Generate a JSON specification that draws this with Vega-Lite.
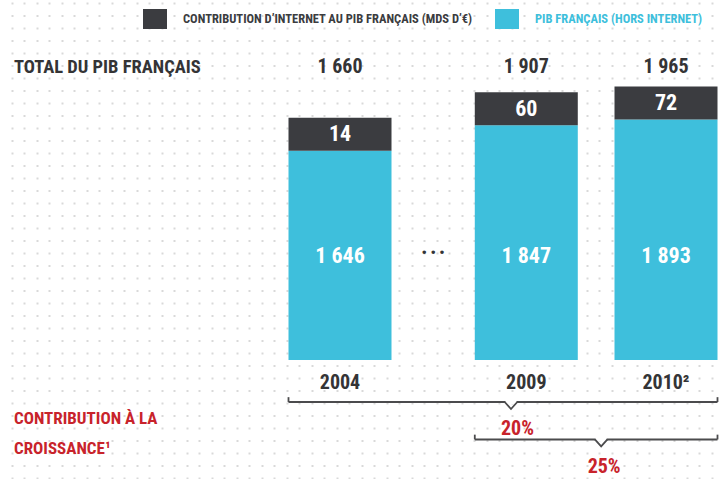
{
  "$schema": "https://vega.github.io/schema/vega-lite/v6.json",
  "width": 720,
  "height": 479,
  "autosize": "none",
  "padding": 0,
  "background": "white",
  "config": {
    "view": {"stroke": null},
    "font": "Liberation Sans Narrow, Roboto Condensed, DejaVu Sans Condensed, Liberation Sans, sans-serif",
    "locale": {"number": {"decimal": ",", "thousands": " ", "grouping": [3], "currency": ["", " €"]}},
    "text": {"fontWeight": "bold", "baseline": "middle", "align": "center"}
  },
  "datasets": {
    "pib": [
      {"annee": "2004", "etiquette": "2004", "total": 1660, "internet": 14, "hors_internet": 1646},
      {"annee": "2009", "etiquette": "2009", "total": 1907, "internet": 60, "hors_internet": 1847},
      {"annee": "2010", "etiquette": "2010²", "total": 1965, "internet": 72, "hors_internet": 1893}
    ],
    "croissance": [
      {"periode": "2004–2010", "debut": "2004", "fin": "2010", "taux": 0.20},
      {"periode": "2009–2010", "debut": "2009", "fin": "2010", "taux": 0.25}
    ]
  },
  "resolve": {"scale": {"x": "independent", "y": "independent"}},
  "layer": [
    {
      "data": {"values": [{"fond": 0}]},
      "mark": {"type": "point", "opacity": 0},
      "encoding": {
        "x": {"datum": 0, "type": "quantitative", "scale": {"domain": [-0.936, 56.664], "nice": false, "zero": false},
          "axis": {"orient": "top", "grid": true, "gridColor": "#d9d9d9", "gridWidth": 2, "gridDash": [2, 10.5], "tickCount": 58, "domain": false, "ticks": false, "labels": false, "title": null}},
        "y": {"datum": 0, "type": "quantitative", "axis": null}
      }
    },
    {
      "layer": [
        {
          "data": {"name": "pib"},
          "mark": {"type": "bar", "width": 103},
          "encoding": {
            "x": {"field": "annee", "type": "nominal", "axis": null,
              "scale": {"type": "point", "padding": 0, "range": [14, 666],
                "domain": ["libellé","_1","_2","_3","_4","_5","_6","_7","_8","_9","_10","_11","_12","_13","2004","_15","_16","_17","…","_19","_20","2004–2010","2009","_23","_24","2009–2010","_26","_27","2010"]}},
            "y": {"field": "hors_internet", "type": "quantitative", "axis": null,
              "scale": {"domain": [-936, 2833], "nice": false, "zero": false}},
            "y2": {"datum": 0},
            "color": {"datum": "PIB FRANÇAIS (HORS INTERNET)", "type": "nominal",
              "scale": {"domain": ["CONTRIBUTION D’INTERNET AU PIB FRANÇAIS (MDS D’€)", "PIB FRANÇAIS (HORS INTERNET)"], "range": ["#3b3c40", "#3ebfdc"]},
              "legend": {"orient": "none", "legendX": 145, "legendY": 9, "direction": "horizontal", "title": null,
                "symbolType": "M-1.2,-1H1.2V1H-1.2Z", "symbolSize": 400, "symbolStrokeWidth": 0, "symbolOpacity": 1,
                "labelFontSize": 12.5, "labelFontWeight": "bold", "labelOffset": 18, "columnPadding": 22, "labelLimit": 600, "padding": 0,
                "encode": {"labels": {"update": {"fill": {"signal": "datum.value == 'PIB FRANÇAIS (HORS INTERNET)' ? '#3ebfdc' : '#3b3c40'"}}}}}}
          }
        },
        {
          "data": {"name": "pib"},
          "mark": {"type": "tick", "orient": "horizontal", "thickness": 33, "size": 103, "yOffset": -16.5, "opacity": 1},
          "encoding": {
            "x": {"field": "annee", "type": "nominal"},
            "y": {"field": "hors_internet", "type": "quantitative"},
            "color": {"datum": "CONTRIBUTION D’INTERNET AU PIB FRANÇAIS (MDS D’€)", "type": "nominal"}
          }
        },
        {
          "data": {"name": "pib"},
          "mark": {"type": "text", "yOffset": -16.5, "fontSize": 22, "color": "white"},
          "encoding": {
            "x": {"field": "annee", "type": "nominal"},
            "y": {"field": "hors_internet", "type": "quantitative"},
            "text": {"field": "internet", "type": "quantitative", "format": ",d"}
          }
        },
        {
          "data": {"name": "pib"},
          "mark": {"type": "text", "fontSize": 22, "color": "white"},
          "encoding": {
            "x": {"field": "annee", "type": "nominal"},
            "y": {"datum": 820},
            "text": {"field": "hors_internet", "type": "quantitative", "format": ",d"}
          }
        },
        {
          "data": {"name": "pib"},
          "mark": {"type": "text", "fontSize": 20, "color": "#343436"},
          "encoding": {
            "x": {"field": "annee", "type": "nominal"},
            "y": {"datum": 2305},
            "text": {"field": "total", "type": "quantitative", "format": ",d"}
          }
        },
        {
          "data": {"name": "pib"},
          "mark": {"type": "text", "fontSize": 20, "color": "#343436"},
          "encoding": {
            "x": {"field": "annee", "type": "nominal"},
            "y": {"datum": -181},
            "text": {"field": "etiquette", "type": "nominal"}
          }
        },
        {
          "data": {"values": [{"colonne": "…", "signe": "• • •"}]},
          "mark": {"type": "text", "fontSize": 15, "color": "#343436"},
          "encoding": {
            "x": {"field": "colonne", "type": "nominal"},
            "y": {"datum": 842},
            "text": {"field": "signe", "type": "nominal"}
          }
        },
        {
          "data": {"values": [{"libelle": "TOTAL DU PIB FRANÇAIS"}]},
          "mark": {"type": "text", "fontSize": 18.5, "align": "left", "color": "#343436"},
          "encoding": {
            "x": {"datum": "libellé", "type": "nominal"},
            "y": {"datum": 2305},
            "text": {"field": "libelle", "type": "nominal"}
          }
        },
        {
          "data": {"values": [{"libelle": "CONTRIBUTION À LA|CROISSANCE¹"}]},
          "mark": {"type": "text", "fontSize": 17, "align": "left", "color": "#c8232b", "lineBreak": "|", "lineHeight": 30},
          "encoding": {
            "x": {"datum": "libellé", "type": "nominal"},
            "y": {"datum": -464},
            "text": {"field": "libelle", "type": "nominal"}
          }
        },
        {
          "data": {"name": "croissance"},
          "transform": [{"filter": "datum.periode == '2004–2010'"}],
          "mark": {"type": "rule", "xOffset": -51.5, "x2Offset": 51.5, "color": "#4b4b4d", "strokeWidth": 1.8},
          "encoding": {
            "x": {"field": "debut", "type": "nominal"},
            "x2": {"field": "fin"},
            "y": {"datum": -330}
          }
        },
        {
          "data": {"name": "croissance"},
          "transform": [{"filter": "datum.periode == '2004–2010'"}],
          "mark": {"type": "rule", "xOffset": -51.5, "color": "#4b4b4d", "strokeWidth": 1.8},
          "encoding": {
            "x": {"field": "debut", "type": "nominal"},
            "y": {"datum": -330},
            "y2": {"datum": -292}
          }
        },
        {
          "data": {"name": "croissance"},
          "transform": [{"filter": "datum.periode == '2004–2010'"}],
          "mark": {"type": "rule", "xOffset": 51.5, "color": "#4b4b4d", "strokeWidth": 1.8},
          "encoding": {
            "x": {"field": "fin", "type": "nominal"},
            "y": {"datum": -330},
            "y2": {"datum": -292}
          }
        },
        {
          "data": {"name": "croissance"},
          "transform": [{"filter": "datum.periode == '2004–2010'"}],
          "mark": {"type": "point", "shape": "M-0.8,-0.3L0.8,-0.3L0.8,0.3L-0.8,0.3Z", "size": 196, "filled": true, "color": "white", "opacity": 1, "xOffset": 8},
          "encoding": {
            "x": {"field": "periode", "type": "nominal"},
            "y": {"datum": -330}
          }
        },
        {
          "data": {"name": "croissance"},
          "transform": [{"filter": "datum.periode == '2004–2010'"}],
          "mark": {"type": "point", "shape": "M-0.9,0L0,1L0.9,0", "size": 196, "filled": false, "fill": null, "stroke": "#4b4b4d", "strokeWidth": 1.8, "opacity": 1, "xOffset": 8},
          "encoding": {
            "x": {"field": "periode", "type": "nominal"},
            "y": {"datum": -330}
          }
        },
        {
          "data": {"name": "croissance"},
          "transform": [{"filter": "datum.periode == '2004–2010'"}],
          "mark": {"type": "text", "fontSize": 20, "color": "#c8232b", "xOffset": 14.5},
          "encoding": {
            "x": {"field": "periode", "type": "nominal"},
            "y": {"datum": -543},
            "text": {"field": "taux", "type": "quantitative", "format": ".0%"}
          }
        },
        {
          "data": {"name": "croissance"},
          "transform": [{"filter": "datum.periode == '2009–2010'"}],
          "mark": {"type": "rule", "xOffset": -51.5, "x2Offset": 51.5, "color": "#4b4b4d", "strokeWidth": 1.8},
          "encoding": {
            "x": {"field": "debut", "type": "nominal"},
            "x2": {"field": "fin"},
            "y": {"datum": -625}
          }
        },
        {
          "data": {"name": "croissance"},
          "transform": [{"filter": "datum.periode == '2009–2010'"}],
          "mark": {"type": "rule", "xOffset": -51.5, "color": "#4b4b4d", "strokeWidth": 1.8},
          "encoding": {
            "x": {"field": "debut", "type": "nominal"},
            "y": {"datum": -625},
            "y2": {"datum": -587}
          }
        },
        {
          "data": {"name": "croissance"},
          "transform": [{"filter": "datum.periode == '2009–2010'"}],
          "mark": {"type": "rule", "xOffset": 51.5, "color": "#4b4b4d", "strokeWidth": 1.8},
          "encoding": {
            "x": {"field": "fin", "type": "nominal"},
            "y": {"datum": -625},
            "y2": {"datum": -587}
          }
        },
        {
          "data": {"name": "croissance"},
          "transform": [{"filter": "datum.periode == '2009–2010'"}],
          "mark": {"type": "point", "shape": "M-0.8,-0.3L0.8,-0.3L0.8,0.3L-0.8,0.3Z", "size": 196, "filled": true, "color": "white", "opacity": 1, "xOffset": 5},
          "encoding": {
            "x": {"field": "periode", "type": "nominal"},
            "y": {"datum": -625}
          }
        },
        {
          "data": {"name": "croissance"},
          "transform": [{"filter": "datum.periode == '2009–2010'"}],
          "mark": {"type": "point", "shape": "M-0.9,0L0,1L0.9,0", "size": 196, "filled": false, "fill": null, "stroke": "#4b4b4d", "strokeWidth": 1.8, "opacity": 1, "xOffset": 5},
          "encoding": {
            "x": {"field": "periode", "type": "nominal"},
            "y": {"datum": -625}
          }
        },
        {
          "data": {"name": "croissance"},
          "transform": [{"filter": "datum.periode == '2009–2010'"}],
          "mark": {"type": "text", "fontSize": 20, "color": "#c8232b", "xOffset": 8},
          "encoding": {
            "x": {"field": "periode", "type": "nominal"},
            "y": {"datum": -842},
            "text": {"field": "taux", "type": "quantitative", "format": ".0%"}
          }
        }
      ]
    }
  ]
}
